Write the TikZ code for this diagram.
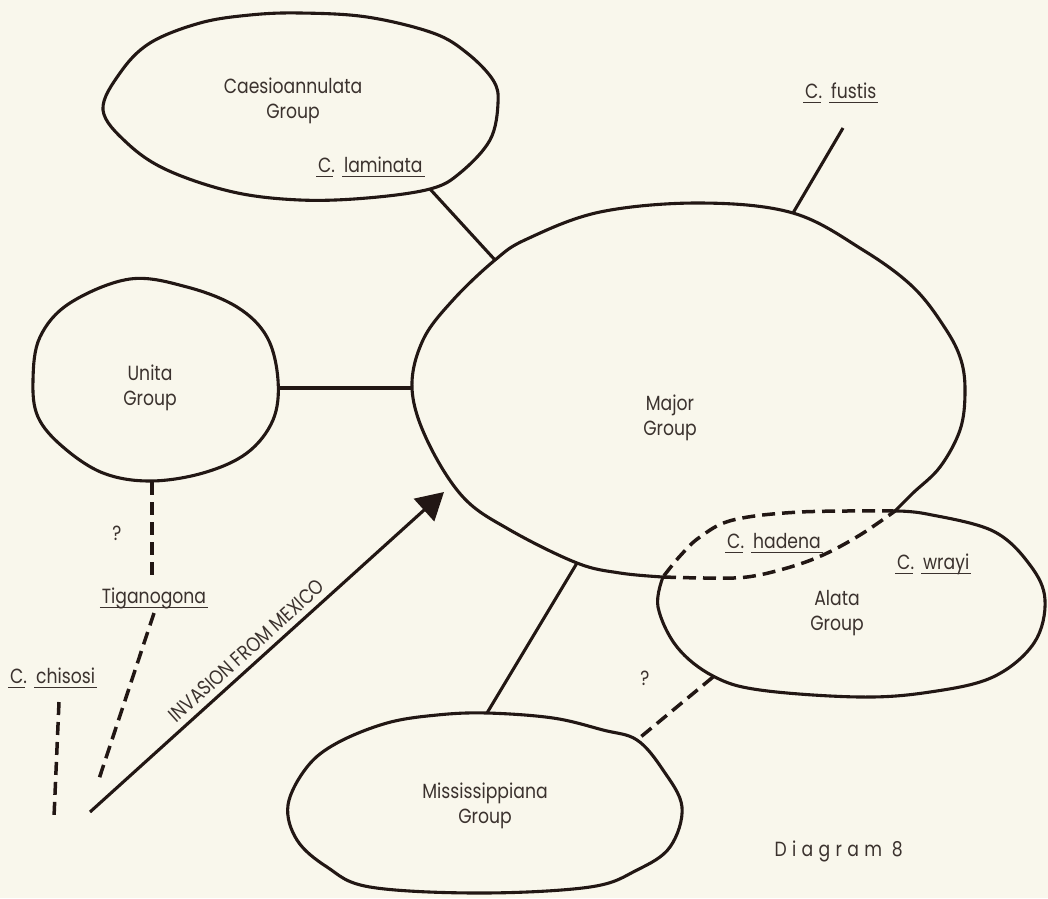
\documentclass[tikz,border=0pt]{standalone}
\usepackage{fontspec}
\setmainfont{Poppins}[FakeStretch=0.84]
\usetikzlibrary{arrows.meta}
\definecolor{paper}{HTML}{F9F7EC}
\definecolor{ink}{HTML}{221714}
\definecolor{txt}{HTML}{3B322E}
\newcommand\myul[1]{\setbox0=\hbox{#1}\rlap{\kern-2pt\rule[-5pt]{\dimexpr\wd0+4pt\relax}{1.2pt}}\box0}
\begin{document}
\begin{tikzpicture}[x=1pt,y=-1pt,
  outline/.style={draw=ink, line width=3.1pt, line join=round, line cap=round},
  conn/.style={draw=ink, line width=3.1pt},
  dashconn/.style={draw=ink, line width=3.5pt, dash pattern=on 13pt off 7pt},
  lbl/.style={text=txt, font=\fontsize{20.5}{25}\selectfont, inner sep=0pt, align=center},
]
\fill[paper] (0,0) rectangle (1048,898);
\useasboundingbox (0,0) rectangle (1048,898);

% ---------- group outlines ----------
% Caesioannulata
\draw[outline] plot[smooth cycle, tension=0.6] coordinates {
  (103,110) (120,73) (150,43) (200,23) (250,15) (300,13) (367,17) (433,33)
  (467,53) (493,80) (498,103) (490,140) (460,173) (430,189) (367,198)
  (300,200) (233,192) (167,170) (127,143)};
% Unita
\draw[outline] plot[smooth cycle, tension=0.6] coordinates {
  (33,380) (40,337) (70,303) (130,279) (187,287) (237,307) (267,337)
  (278,380) (273,420) (247,453) (203,473) (150,481) (103,473) (63,447) (38,417)};
% Major (open, from the notch round to the Alata junction)
\draw[outline] plot[smooth, tension=0.6] coordinates {
  (895,511) (913,493) (940,467) (960,430) (965,393) (961,360) (945,328)
  (913,287) (863,250) (793,213) (700,203) (600,212) (527,239) (495,260)
  (453,300) (423,340) (412,388) (427,440) (463,497) (510,530) (577,563)
  (620,573) (663,577)};
% Alata
\draw[outline] plot[smooth, tension=0.6] coordinates {
  (895,511) (927,514) (993,531) (1030,565) (1045,600) (1034,643) (993,677)
  (930,692) (860,697) (760,690) (713,676) (677,647) (658,607) (663,577)};
% Mississippiana
\draw[outline] plot[smooth cycle, tension=0.6] coordinates {
  (288,805) (307,767) (337,743) (387,723) (437,715) (487,713) (553,718)
  (603,730) (637,740) (663,770) (682,807) (670,847) (637,870) (590,887)
  (480,893) (370,887) (327,867) (297,840)};
% C. hadena overlap (dashed lens)
\draw[dashconn] plot[smooth, tension=0.6] coordinates {
  (895,511) (800,512) (733,520) (700,537) (680,556) (663,577)};
\draw[dashconn] plot[smooth, tension=0.6] coordinates {
  (663,577) (707,578) (747,577) (787,568) (823,555) (860,535) (895,511)};

% ---------- junction points ----------
\coordinate (caeMaj) at (430,189);  \coordinate (majCae) at (495,260);
\coordinate (uniMaj) at (278,388);  \coordinate (majUni) at (412,388);
\coordinate (majFus) at (793,213);  \coordinate (fusEnd) at (843,128);
\coordinate (majMis) at (577,563);  \coordinate (misMaj) at (487,713);
\coordinate (alaMis) at (713,677);  \coordinate (misAla) at (637,740);
\coordinate (uniTig) at (152,482);  \coordinate (tigUp)  at (152,580);
\coordinate (tigDn)  at (154,613);  \coordinate (tigEnd) at (98,782);
\coordinate (chiDn)  at (59,702);   \coordinate (chiEnd) at (54,817);
\coordinate (arrStart) at (90,812); \coordinate (arrTip) at (444,492);

% ---------- connectors ----------
\draw[conn] (caeMaj) -- (majCae);
\draw[conn] (uniMaj) -- (majUni);
\draw[conn] (majFus) -- (fusEnd);
\draw[conn] (majMis) -- (misMaj);
\draw[dashconn] (alaMis) -- (misAla);
\draw[dashconn] (uniTig) -- (tigUp);
\draw[dashconn] (tigDn) -- (tigEnd);
\draw[dashconn] (chiDn) -- (chiEnd);
\draw[conn, -{Triangle[length=27pt, width=30pt]}] (arrStart) -- (arrTip)
  node[lbl, pos=0.47, sloped, anchor=south, inner ysep=6pt] (inv) {INVASION FROM MEXICO};

% ---------- labels ----------
\node[lbl] (cae) at (293,101) {Caesioannulata\\Group};
\node[lbl] (uni) at (150,388) {Unita\\Group};
\node[lbl] (maj) at (670,418) {Major\\Group};
\node[lbl] (ala) at (837,613) {Alata\\Group};
\node[lbl] (mis) at (485,806) {Mississippiana\\Group};

\node[lbl, anchor=base west] (lam) at (318,172) {\myul{C}.\hspace{9pt}\myul{laminata}};
\node[lbl, anchor=base west] (fus) at (805,98) {\myul{C}.\hspace{9pt}\myul{fustis}};
\node[lbl, anchor=base west] (had) at (727,548) {\myul{C}.\hspace{9pt}\myul{hadena}};
\node[lbl, anchor=base west] (wra) at (897,569) {\myul{C}.\hspace{9pt}\myul{wrayi}};
\node[lbl, anchor=base west] (chi) at (10,683) {\myul{C}.\hspace{9pt}\myul{chisosi}};
\node[lbl, anchor=base] (tig) at (154,603) {\myul{Tiganogona}};

\node[lbl] (q1) at (117,533) {?};
\node[lbl] (q2) at (645,678) {?};

\node[lbl, anchor=base east] (dia) at (903,856) {\addfontfeature{LetterSpace=26}Diagram 8};
\end{tikzpicture}
\end{document}
